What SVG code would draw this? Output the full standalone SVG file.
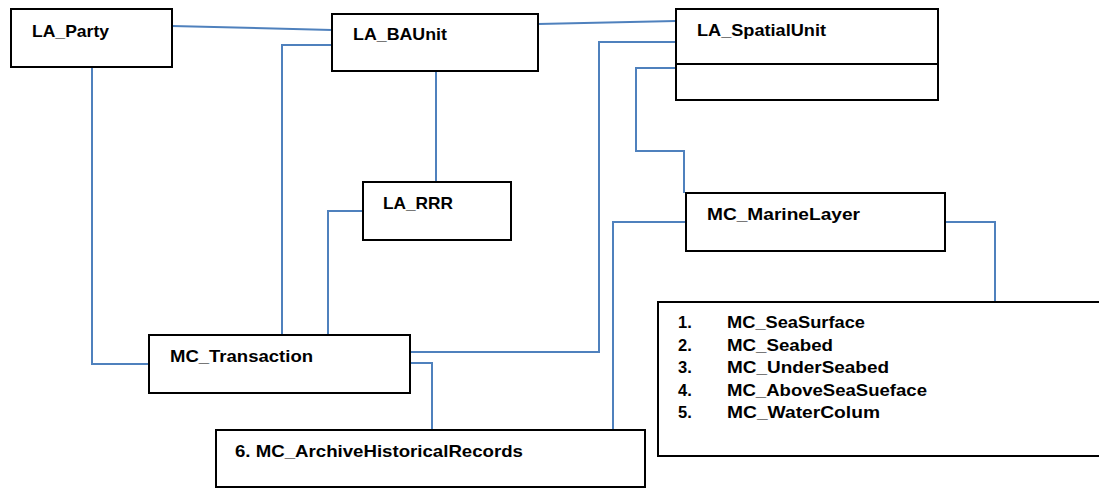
<svg xmlns="http://www.w3.org/2000/svg" width="1099" height="488" viewBox="0 0 1099 488">
<style>
.box{fill:#fff;stroke:#000;stroke-width:2}
.con{fill:none;stroke:#4f81bd;stroke-width:2}
text{font-family:"Liberation Sans",Arial,sans-serif;font-weight:bold;font-size:16.5px;fill:#000}
</style>
<rect width="1099" height="488" fill="#fff"/>
<g id="connectors">
<path class="con" d="M172 26 L332 30"/>
<path class="con" d="M538 24 L676 21"/>
<path class="con" d="M332 45 H282 V337"/>
<path class="con" d="M436 71 V182"/>
<path class="con" d="M363 211 H328 V335"/>
<path class="con" d="M92 67 V364 H149"/>
<path class="con" d="M676 42 H599 V352 H410"/>
<path class="con" d="M410 363 H432 V430"/>
<path class="con" d="M676 68 H636 V151 H684 V193"/>
<path class="con" d="M686 222 H613 V430"/>
<path class="con" d="M945 222 H995 V302"/>
</g>
<g id="la_party">
<rect class="box" x="11" y="9" width="161" height="58"/>
<text x="32" y="37" textLength="77" lengthAdjust="spacingAndGlyphs">LA_Party</text>
</g>
<g id="la_baunit">
<rect class="box" x="332" y="14" width="206" height="57"/>
<text x="353" y="40" textLength="94" lengthAdjust="spacingAndGlyphs">LA_BAUnit</text>
</g>
<g id="la_spatialunit">
<rect class="box" x="676" y="9" width="262" height="91"/>
<line x1="676" y1="64" x2="938" y2="64" stroke="#000" stroke-width="2"/>
<text x="697" y="36" textLength="129" lengthAdjust="spacingAndGlyphs">LA_SpatialUnit</text>
</g>
<g id="la_rrr">
<rect class="box" x="363" y="182" width="148" height="58"/>
<text x="383" y="209" textLength="70" lengthAdjust="spacingAndGlyphs">LA_RRR</text>
</g>
<g id="mc_marinelayer">
<rect class="box" x="686" y="193" width="259" height="58"/>
<text x="707" y="220" textLength="153" lengthAdjust="spacingAndGlyphs">MC_MarineLayer</text>
</g>
<g id="mc_transaction">
<rect class="box" x="149" y="335" width="261" height="58"/>
<text x="170" y="362" textLength="143" lengthAdjust="spacingAndGlyphs">MC_Transaction</text>
</g>
<g id="mc_archive">
<rect class="box" x="216" y="430" width="429" height="57"/>
<text x="235" y="457" textLength="288" lengthAdjust="spacingAndGlyphs">6. MC_ArchiveHistoricalRecords</text>
</g>
<g id="mc_layers">
<rect class="box" x="658" y="302" width="450" height="154"/>
<text x="678" y="328">1.</text><text x="727" y="328" textLength="138" lengthAdjust="spacingAndGlyphs">MC_SeaSurface</text>
<text x="678" y="351">2.</text><text x="727" y="351" textLength="106" lengthAdjust="spacingAndGlyphs">MC_Seabed</text>
<text x="678" y="373">3.</text><text x="727" y="373" textLength="162" lengthAdjust="spacingAndGlyphs">MC_UnderSeabed</text>
<text x="678" y="396">4.</text><text x="727" y="396" textLength="200" lengthAdjust="spacingAndGlyphs">MC_AboveSeaSueface</text>
<text x="678" y="418">5.</text><text x="727" y="418" textLength="153" lengthAdjust="spacingAndGlyphs">MC_WaterColum</text>
</g>
</svg>
